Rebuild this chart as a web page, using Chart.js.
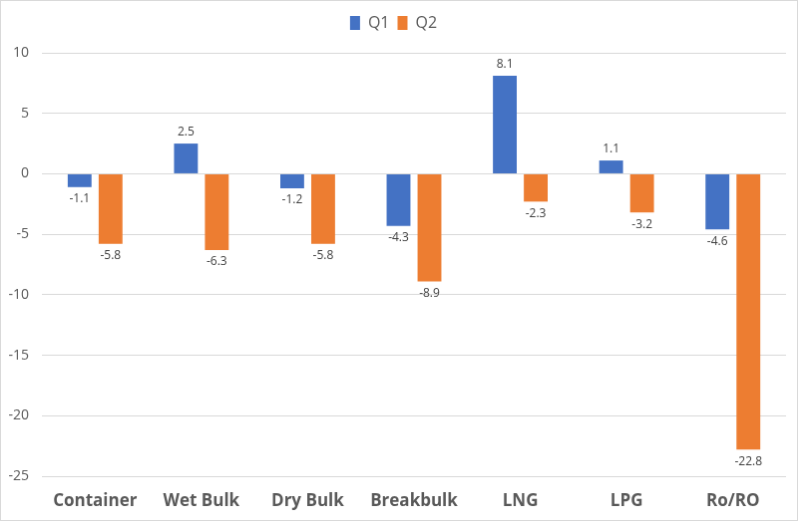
<!DOCTYPE html>
<html>
<head>
<meta charset="utf-8">
<script src="https://cdn.jsdelivr.net/npm/chart.js@4.4.1/dist/chart.umd.min.js"></script>
<style>
  html, body { margin: 0; padding: 0; background: #fff; }
  #grafik { display: block; border: 1px solid #d9d9d9; }
</style>
</head>
<body>
<canvas id="grafik" width="798" height="521"></canvas>
<script>
// Veriler
const kategoriler = ["Container", "Wet Bulk", "Dry Bulk", "Breakbulk", "LNG", "LPG", "Ro/RO"];
const q1 = [-1.1, 2.5, -1.2, -4.3, 8.1, 1.1, -4.6];
const q2 = [-5.8, -6.3, -5.8, -8.9, -2.3, -3.2, -22.8];

const yazi = "'Open Sans', sans-serif";

// Lejant altına boşluk
const lejantBosluk = {
  id: "lejantBosluk",
  beforeInit(chart) {
    const eskiFit = chart.legend.fit;
    chart.legend.fit = function () {
      eskiFit.bind(chart.legend)();
      this.height += 12;
    };
  }
};

// Çubuk değer etiketleri
const degerEtiketleri = {
  id: "degerEtiketleri",
  afterDatasetsDraw(chart) {
    const ctx = chart.ctx;
    ctx.save();
    ctx.font = "12px " + yazi;
    ctx.fillStyle = "#404040";
    ctx.textAlign = "center";
    chart.data.datasets.forEach((ds, i) => {
      chart.getDatasetMeta(i).data.forEach((bar, j) => {
        const v = ds.data[j];
        if (v >= 0) {
          ctx.textBaseline = "bottom";
          ctx.fillText(v.toFixed(1), bar.x, bar.y - 5);
        } else {
          ctx.textBaseline = "top";
          ctx.fillText(v.toFixed(1), bar.x, bar.y + 6);
        }
      });
    });
    ctx.restore();
  }
};

new Chart(document.getElementById("grafik"), {
  type: "bar",
  data: {
    labels: kategoriler,
    datasets: [
      { label: "Q1", data: q1, backgroundColor: "#4472c4" },
      { label: "Q2", data: q2, backgroundColor: "#ed7d31" }
    ]
  },
  options: {
    responsive: false,
    animation: false,
    layout: { padding: { left: 0, right: 11, top: 6, bottom: 0 } },
    datasets: { bar: { categoryPercentage: 0.582, barPercentage: 0.77 } },
    plugins: {
      legend: {
        position: "top",
        labels: {
          boxWidth: 10,
          boxHeight: 14,
          padding: 8,
          color: "#595959",
          font: { size: 16, family: yazi }
        }
      },
      tooltip: { enabled: false }
    },
    scales: {
      x: {
        grid: { display: false },
        border: { display: false },
        afterFit(scale) {
          scale.height = 44;
          scale.paddingLeft = 0;
          scale.paddingRight = 0;
        },
        ticks: { color: "#595959", padding: 7, font: { size: 17, weight: "bold", family: yazi } }
      },
      y: {
        min: -25,
        max: 10,
        grid: { color: "#d9d9d9", drawTicks: false },
        border: { display: false },
        afterFit(scale) { scale.width = 41; },
        ticks: { stepSize: 5, color: "#595959", padding: 13, font: { size: 14, family: yazi } }
      }
    }
  },
  plugins: [lejantBosluk, degerEtiketleri]
});
</script>
</body>
</html>
